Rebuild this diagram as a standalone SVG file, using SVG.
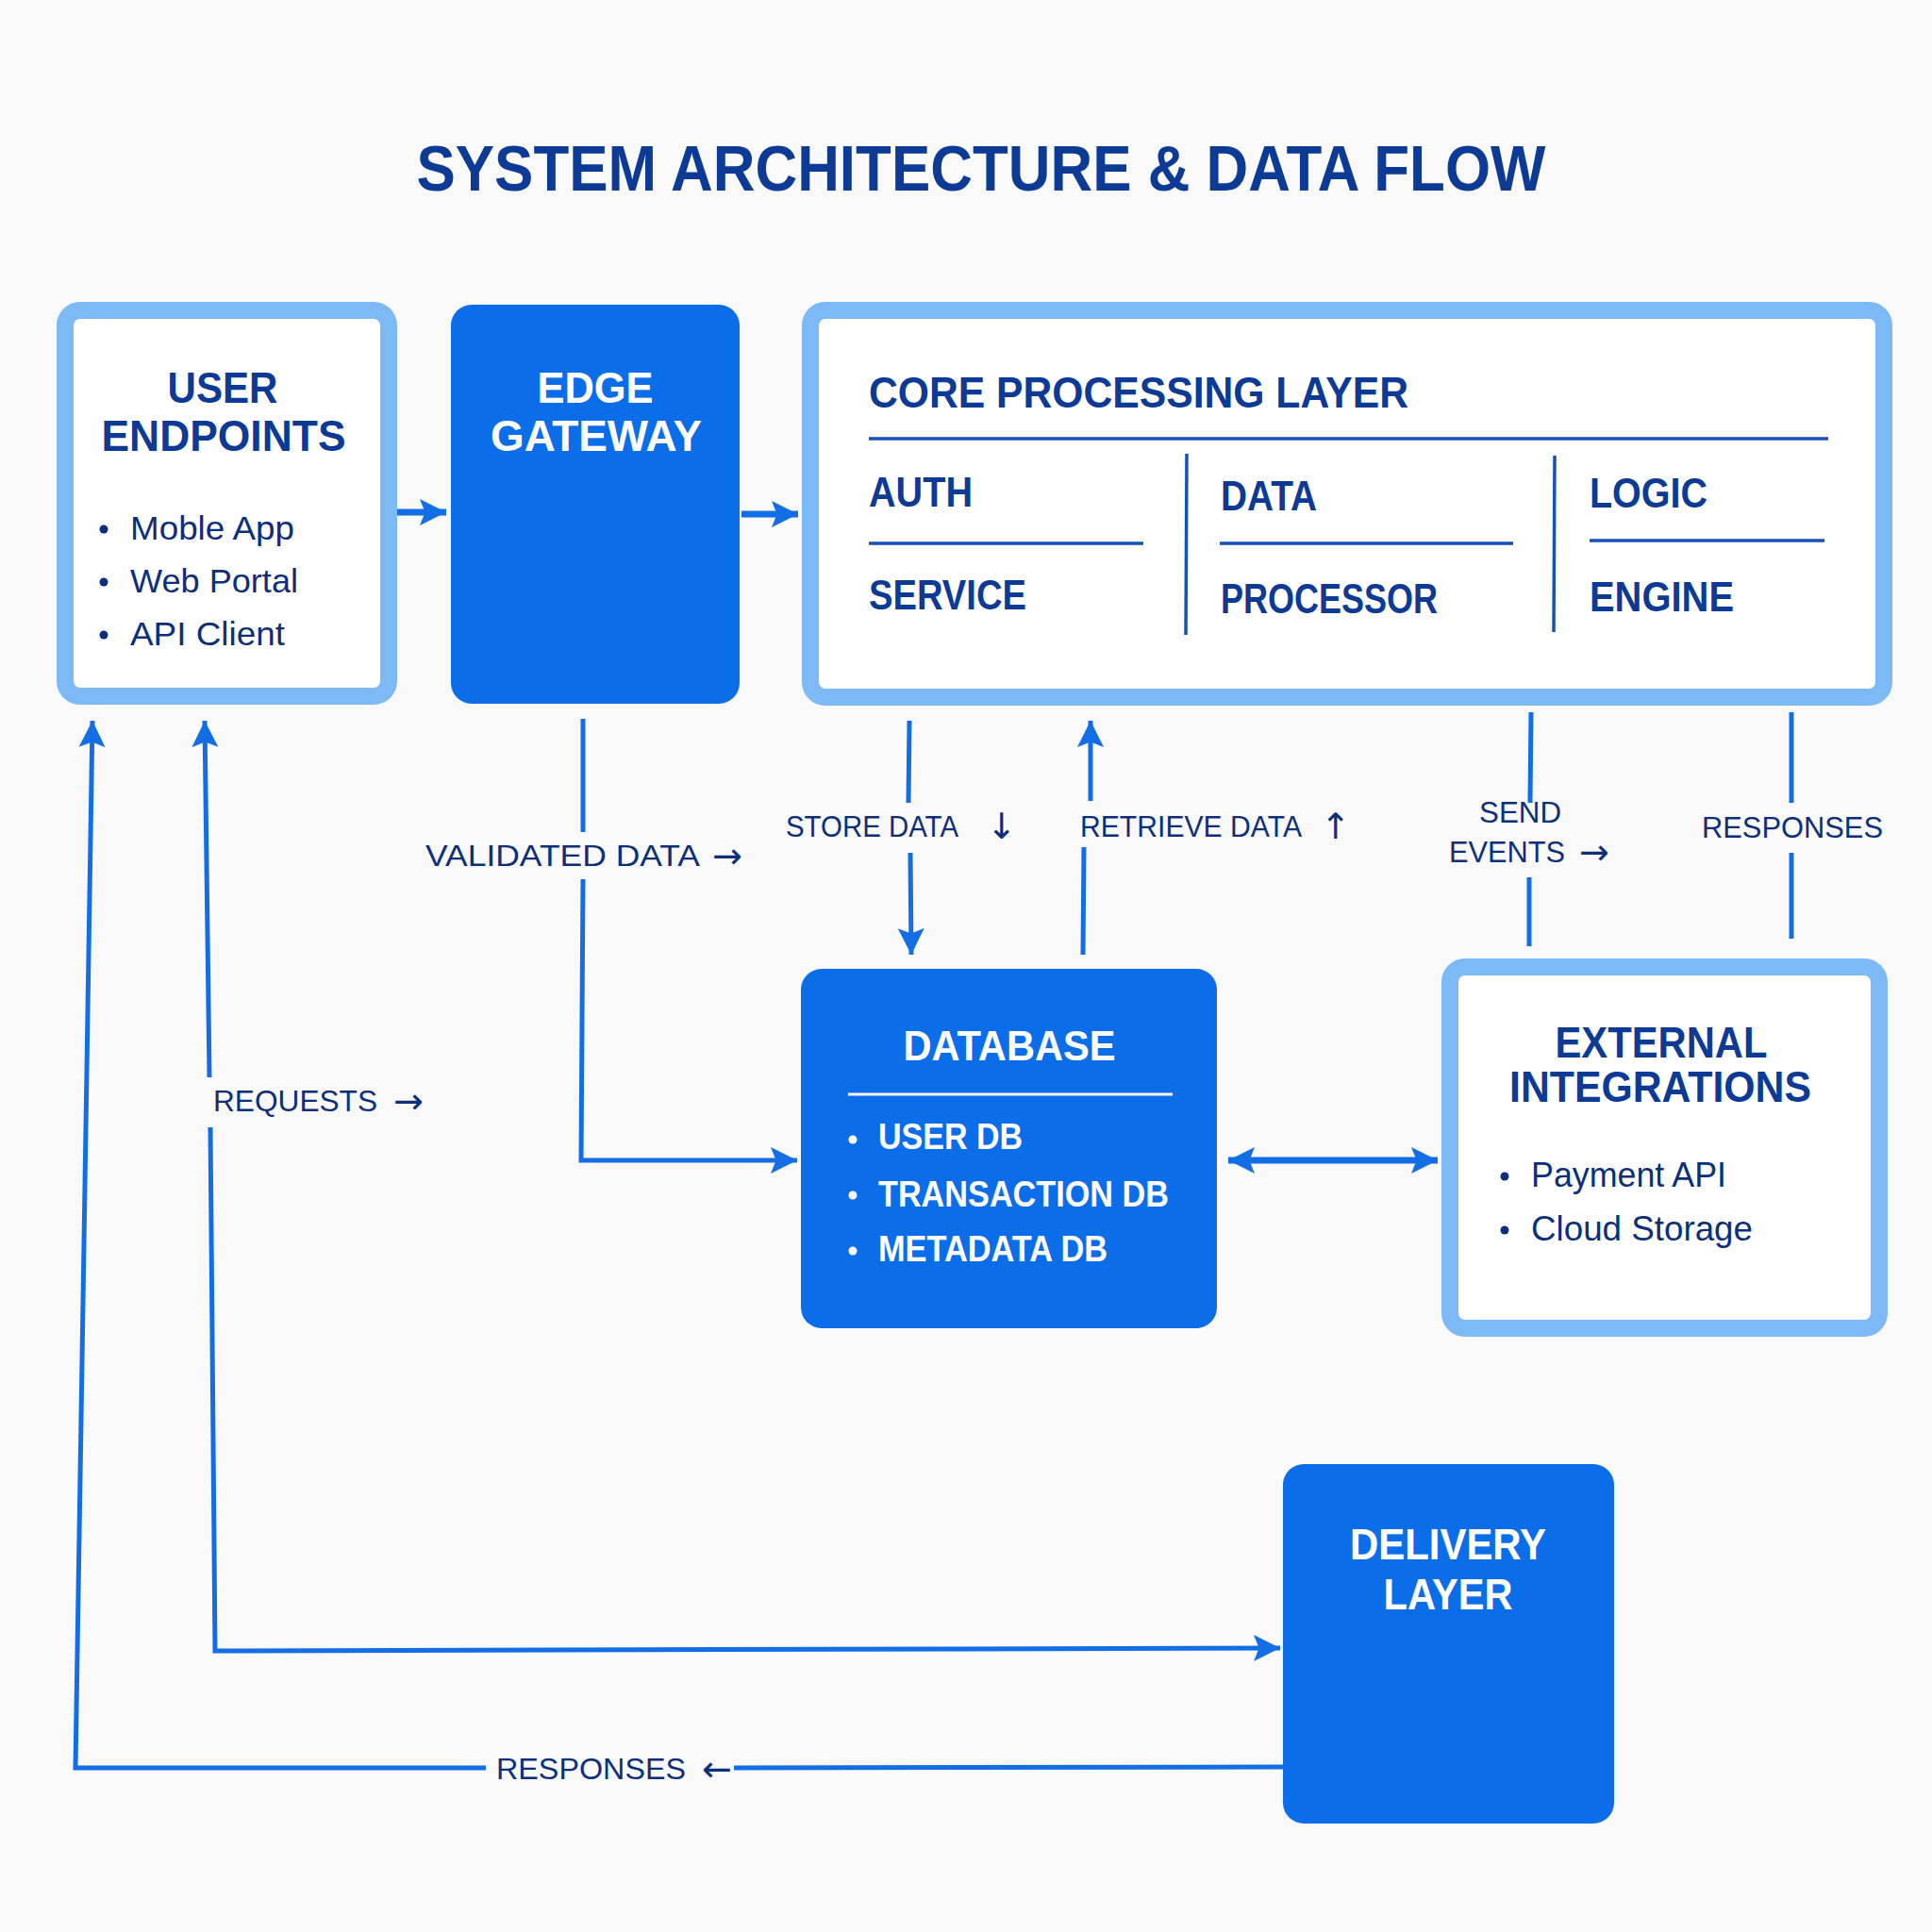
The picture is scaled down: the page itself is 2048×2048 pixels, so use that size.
<svg xmlns="http://www.w3.org/2000/svg" width="2048" height="2048" viewBox="0 0 2048 2048">
<style>
.bg{fill:#f9f9f9}
.solid{fill:#0b6ee8}
.outl{fill:#ffffff;stroke:#7db9f4;stroke-width:18}
.ttl{font-family:"Liberation Sans",Arial,sans-serif;font-weight:bold;fill:#0d3a94}
.wt{font-family:"Liberation Sans",Arial,sans-serif;font-weight:bold;fill:#ffffff}
.nv{font-family:"Liberation Sans",Arial,sans-serif;fill:#0d2f7a}
.nvb{font-family:"Liberation Sans",Arial,sans-serif;font-weight:bold;fill:#0d3a94}
.lbl{font-family:"Liberation Sans","DejaVu Sans",sans-serif;font-size:32px;fill:#0d2f7a}
.ar{font-family:"DejaVu Sans",sans-serif;font-size:38px}
.div{stroke:#1652b8;stroke-width:3.5;fill:none}
.conn{stroke:#136ee6;stroke-width:5;fill:none}
.thick{stroke:#136ee6;stroke-width:7;fill:none}
</style>
<defs>
<marker id="arr" viewBox="0 0 10 10" refX="10" refY="5" markerWidth="28" markerHeight="30" markerUnits="userSpaceOnUse" orient="auto-start-reverse">
<path d="M0,0 L10,5 L0,10 L2,5 z" fill="#136ee6"/>
</marker>
</defs>
<rect class="bg" x="0" y="0" width="2048" height="2048"/>
<text class="ttl" x="1040" y="202" font-size="68" text-anchor="middle" textLength="1197" lengthAdjust="spacingAndGlyphs">SYSTEM ARCHITECTURE &amp; DATA FLOW</text>

<g id="connectors">
<line class="thick" x1="415" y1="543" x2="473" y2="543" marker-end="url(#arr)"/>
<line class="thick" x1="786" y1="545" x2="846" y2="545" marker-end="url(#arr)"/>
<line class="conn" x1="964" y1="764" x2="963" y2="851"/>
<line class="conn" x1="965" y1="904" x2="966" y2="1012" marker-end="url(#arr)"/>
<line class="conn" x1="1156" y1="849" x2="1156" y2="764" marker-end="url(#arr)"/>
<line class="conn" x1="1148" y1="1012" x2="1149" y2="898"/>
<line class="conn" x1="1623" y1="755" x2="1622" y2="851"/>
<line class="conn" x1="1621" y1="930" x2="1621" y2="1003"/>
<line class="conn" x1="1899" y1="755" x2="1899" y2="851"/>
<line class="conn" x1="1899" y1="904" x2="1899" y2="995"/>
<line class="conn" x1="618" y1="762" x2="618" y2="882"/>
<polyline class="conn" points="618,932 616,1230 845,1230" marker-end="url(#arr)"/>
<line class="thick" x1="1302" y1="1230" x2="1524" y2="1230" marker-start="url(#arr)" marker-end="url(#arr)"/>
<line class="conn" x1="217" y1="764" x2="222" y2="1142" marker-start="url(#arr)"/>
<polyline class="conn" points="223,1195 228,1750 1357,1747" marker-end="url(#arr)"/>
<polyline class="conn" points="515,1874 80,1874 98,764" marker-end="url(#arr)"/>
<line class="conn" x1="1360" y1="1873" x2="778" y2="1874"/>
</g>

<g id="user-endpoints">
<rect class="outl" x="69" y="329" width="343" height="409" rx="16"/>
<text class="nvb" x="236" y="427" font-size="46" text-anchor="middle" textLength="117" lengthAdjust="spacingAndGlyphs">USER</text>
<text class="nvb" x="237" y="478" font-size="46" text-anchor="middle" textLength="259" lengthAdjust="spacingAndGlyphs">ENDPOINTS</text>
<circle cx="110" cy="561" r="4.5" fill="#0d2f7a"/>
<circle cx="110" cy="617" r="4.5" fill="#0d2f7a"/>
<circle cx="110" cy="673" r="4.5" fill="#0d2f7a"/>
<text class="nv" x="138" y="572" font-size="35" textLength="174" lengthAdjust="spacingAndGlyphs">Moble App</text>
<text class="nv" x="138" y="628" font-size="35" textLength="178" lengthAdjust="spacingAndGlyphs">Web Portal</text>
<text class="nv" x="138" y="684" font-size="35" textLength="164" lengthAdjust="spacingAndGlyphs">API Client</text>
</g>

<g id="edge-gateway">
<rect class="solid" x="478" y="323" width="306" height="423" rx="22"/>
<text class="wt" x="631" y="427" font-size="46" text-anchor="middle" textLength="123" lengthAdjust="spacingAndGlyphs">EDGE</text>
<text class="wt" x="632" y="478" font-size="46" text-anchor="middle" textLength="224" lengthAdjust="spacingAndGlyphs">GATEWAY</text>
</g>

<g id="core-processing">
<rect class="outl" x="859" y="329" width="1138" height="410" rx="16"/>
<text class="nvb" x="921" y="432" font-size="46" textLength="572" lengthAdjust="spacingAndGlyphs">CORE PROCESSING LAYER</text>
<line class="div" x1="921" y1="465" x2="1938" y2="465"/>
<text class="nvb" x="921" y="537" font-size="44" textLength="110" lengthAdjust="spacingAndGlyphs">AUTH</text>
<line class="div" x1="921" y1="576" x2="1212" y2="576"/>
<text class="nvb" x="921" y="646" font-size="44" textLength="167" lengthAdjust="spacingAndGlyphs">SERVICE</text>
<line class="div" x1="1258" y1="481" x2="1257" y2="673"/>
<text class="nvb" x="1294" y="541" font-size="44" textLength="102" lengthAdjust="spacingAndGlyphs">DATA</text>
<line class="div" x1="1293" y1="576" x2="1604" y2="576"/>
<text class="nvb" x="1294" y="650" font-size="44" textLength="230" lengthAdjust="spacingAndGlyphs">PROCESSOR</text>
<line class="div" x1="1648" y1="483" x2="1647" y2="670"/>
<text class="nvb" x="1685" y="538" font-size="44" textLength="125" lengthAdjust="spacingAndGlyphs">LOGIC</text>
<line class="div" x1="1685" y1="573" x2="1934" y2="573"/>
<text class="nvb" x="1685" y="648" font-size="44" textLength="153" lengthAdjust="spacingAndGlyphs">ENGINE</text>
</g>

<g id="labels">
<text class="lbl"><tspan x="833" y="887" textLength="183" lengthAdjust="spacingAndGlyphs">STORE DATA</tspan><tspan class="ar" x="1046" y="889">↓</tspan></text>
<text class="lbl"><tspan x="1145" y="887" textLength="235" lengthAdjust="spacingAndGlyphs">RETRIEVE DATA</tspan><tspan class="ar" x="1400" y="889">↑</tspan></text>
<text class="lbl" x="1568" y="872" textLength="87" lengthAdjust="spacingAndGlyphs">SEND</text>
<text class="lbl"><tspan x="1536" y="914" textLength="123" lengthAdjust="spacingAndGlyphs">EVENTS</tspan><tspan class="ar" x="1674" y="916">→</tspan></text>
<text class="lbl" x="1804" y="888" textLength="192" lengthAdjust="spacingAndGlyphs">RESPONSES</text>
<text class="lbl"><tspan x="451" y="918" textLength="291" lengthAdjust="spacingAndGlyphs">VALIDATED DATA</tspan><tspan class="ar" x="755" y="920">→</tspan></text>
<text class="lbl"><tspan x="226" y="1178" textLength="174" lengthAdjust="spacingAndGlyphs">REQUESTS</tspan><tspan class="ar" x="417" y="1180">→</tspan></text>
<text class="lbl"><tspan x="526" y="1886" textLength="201" lengthAdjust="spacingAndGlyphs">RESPONSES</tspan><tspan class="ar" x="744" y="1888">←</tspan></text>
</g>

<g id="database">
<rect class="solid" x="849" y="1027" width="441" height="381" rx="22"/>
<text class="wt" x="1070" y="1124" font-size="44" text-anchor="middle" textLength="225" lengthAdjust="spacingAndGlyphs">DATABASE</text>
<line x1="899" y1="1160" x2="1243" y2="1160" stroke="#ffffff" stroke-width="3"/>
<circle cx="904" cy="1208" r="4.5" fill="#ffffff"/>
<circle cx="904" cy="1267" r="4.5" fill="#ffffff"/>
<circle cx="904" cy="1326" r="4.5" fill="#ffffff"/>
<text class="wt" x="931" y="1218" font-size="38" textLength="153" lengthAdjust="spacingAndGlyphs">USER DB</text>
<text class="wt" x="931" y="1279" font-size="38" textLength="308" lengthAdjust="spacingAndGlyphs">TRANSACTION DB</text>
<text class="wt" x="931" y="1337" font-size="38" textLength="243" lengthAdjust="spacingAndGlyphs">METADATA DB</text>
</g>

<g id="external-integrations">
<rect class="outl" x="1537" y="1025" width="455" height="383" rx="16"/>
<text class="nvb" x="1761" y="1121" font-size="46" text-anchor="middle" textLength="225" lengthAdjust="spacingAndGlyphs">EXTERNAL</text>
<text class="nvb" x="1760" y="1168" font-size="46" text-anchor="middle" textLength="320" lengthAdjust="spacingAndGlyphs">INTEGRATIONS</text>
<circle cx="1595" cy="1247" r="4.5" fill="#0d2f7a"/>
<circle cx="1595" cy="1304" r="4.5" fill="#0d2f7a"/>
<text class="nv" x="1623" y="1258" font-size="36" textLength="207" lengthAdjust="spacingAndGlyphs">Payment API</text>
<text class="nv" x="1623" y="1315" font-size="36" textLength="235" lengthAdjust="spacingAndGlyphs">Cloud Storage</text>
</g>

<g id="delivery-layer">
<rect class="solid" x="1360" y="1552" width="351" height="381" rx="22"/>
<text class="wt" x="1535" y="1653" font-size="46" text-anchor="middle" textLength="208" lengthAdjust="spacingAndGlyphs">DELIVERY</text>
<text class="wt" x="1535" y="1706" font-size="46" text-anchor="middle" textLength="137" lengthAdjust="spacingAndGlyphs">LAYER</text>
</g>
</svg>
